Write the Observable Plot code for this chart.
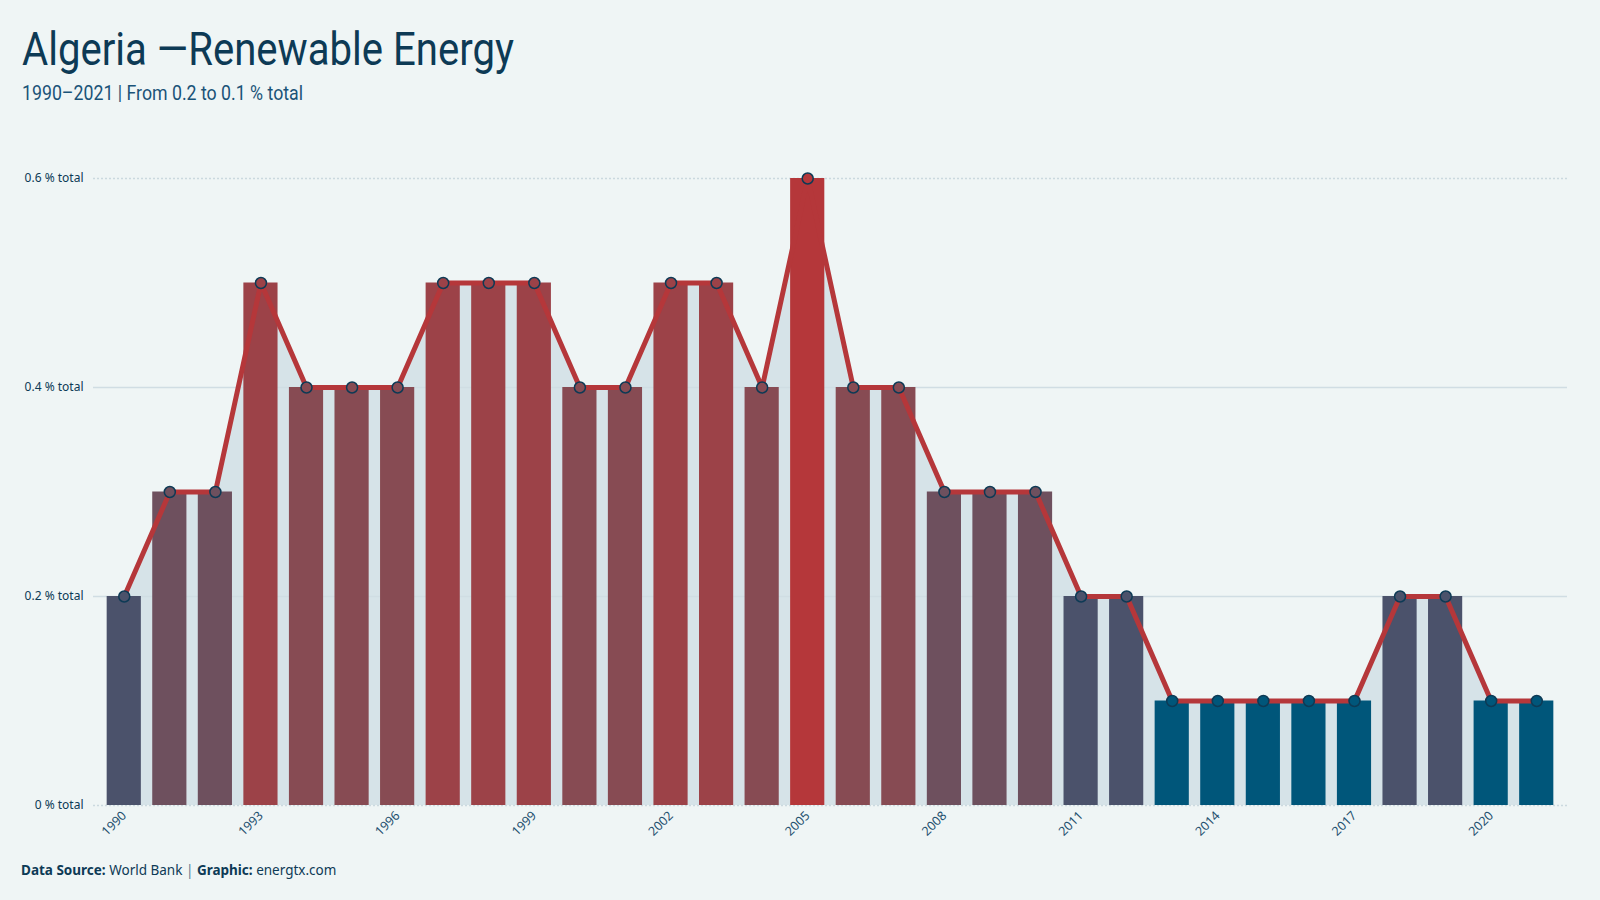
<!DOCTYPE html>
<html>
<head>
<meta charset="utf-8">
<script src="https://cdn.jsdelivr.net/npm/d3@7"></script>
<script src="https://cdn.jsdelivr.net/npm/@observablehq/plot@0.6"></script>
<style>
  html, body { margin: 0; padding: 0; background: #eff5f5; width: 1600px; height: 900px; overflow: hidden; }
  #title { position: absolute; left: 22px; top: 22px; font-family: "Roboto", "Noto Sans", sans-serif; font-weight: 400; font-size: 46px; color: #0d3a55; white-space: nowrap; transform-origin: 0 0; line-height: 1.2; }
  #subtitle { position: absolute; left: 22px; top: 81px; font-family: "Roboto", "Noto Sans", sans-serif; font-size: 21px; color: #1a5378; white-space: nowrap; transform-origin: 0 0; line-height: 1.2; }
  #chart { position: absolute; left: 0; top: 150px; }
  #caption { position: absolute; left: 21px; top: 861px; font-family: "Noto Sans", sans-serif; font-size: 13.5px; color: #0d3a55; white-space: nowrap; }
  #caption b { font-weight: 700; }
  #caption .sep { color: #5a7d90; }
  #chart svg g[aria-label="x-axis tick label"] text { font-size: 12.5px; fill: #1d4f6e; }
</style>
</head>
<body>
<div id="title">Algeria —Renewable Energy</div>
<div id="subtitle">1990–2021 | From 0.2 to 0.1 % total</div>
<div id="chart"></div>
<div id="caption"><b>Data Source:</b> World Bank <span class="sep">|</span> <b>Graphic:</b> energtx.com</div>
<script>
// ---- data ----
const years = [1990, 1991, 1992, 1993, 1994, 1995, 1996, 1997, 1998, 1999, 2000, 2001, 2002, 2003, 2004, 2005,
               2006, 2007, 2008, 2009, 2010, 2011, 2012, 2013, 2014, 2015, 2016, 2017, 2018, 2019, 2020, 2021];
const renewableShare = [0.2, 0.3, 0.3, 0.5, 0.4, 0.4, 0.4, 0.5, 0.5, 0.5, 0.4, 0.4, 0.5, 0.5, 0.4, 0.6,
                        0.4, 0.4, 0.3, 0.3, 0.3, 0.2, 0.2, 0.1, 0.1, 0.1, 0.1, 0.1, 0.2, 0.2, 0.1, 0.1];
const xTickYears = [1990, 1993, 1996, 1999, 2002, 2005, 2008, 2011, 2014, 2017, 2020];
const yTickValues = [0, 0.2, 0.4, 0.6];
const colorStops = [0.1, 0.2, 0.3, 0.4, 0.5, 0.6];
const colorRange = ["#00567a", "#4b526b", "#6e505e", "#874b53", "#9c4248", "#b5373a"];

const data = years.map((year, i) => ({year, value: renewableShare[i]}));

const plot = Plot.plot({
  width: 1600,
  height: 700,
  marginTop: 28,
  marginBottom: 45,
  marginLeft: 93,
  marginRight: 33,
  style: {background: "transparent", fontFamily: "'Noto Sans', sans-serif", fontSize: "12px", color: "#0d3a55"},
  x: {type: "band", domain: years, paddingInner: 0.25, paddingOuter: 0.3, round: false, label: null,
      tickSize: 0, tickPadding: 8, tickRotate: -45,
      tickFormat: d => xTickYears.includes(d) ? String(d) : ""},
  y: {domain: [0, 0.6], label: null, ticks: yTickValues, tickSize: 0, tickPadding: 10,
      tickFormat: d => `${d} % total`},
  color: {type: "linear", domain: colorStops, range: colorRange},
  marks: [
    Plot.areaY(data, {x: "year", y: "value", fill: "#d6e3e8", curve: "linear"}),
    Plot.ruleY([0.2, 0.4], {stroke: "#d0dde3", strokeWidth: 1.5}),
    Plot.ruleY([0, 0.6], {stroke: "#cbd9df", strokeWidth: 1.5, strokeDasharray: "2,2"}),
    Plot.barY(data, {x: "year", y: "value", fill: "value"}),
    Plot.line(data, {x: "year", y: "value", stroke: "#b5373a", strokeWidth: 5, curve: "linear"}),
    Plot.dot(data, {x: "year", y: "value", r: 5.5, fill: "value", stroke: "#0d3a55", strokeWidth: 1.5})
  ]
});
document.getElementById("chart").appendChild(plot);

function fitWidth(id, target) {
  const el = document.getElementById(id);
  const w = el.getBoundingClientRect().width;
  el.style.transform = `scaleX(${target / w})`;
}
fitWidth("title", 492);
fitWidth("subtitle", 281);
</script>
</body>
</html>
